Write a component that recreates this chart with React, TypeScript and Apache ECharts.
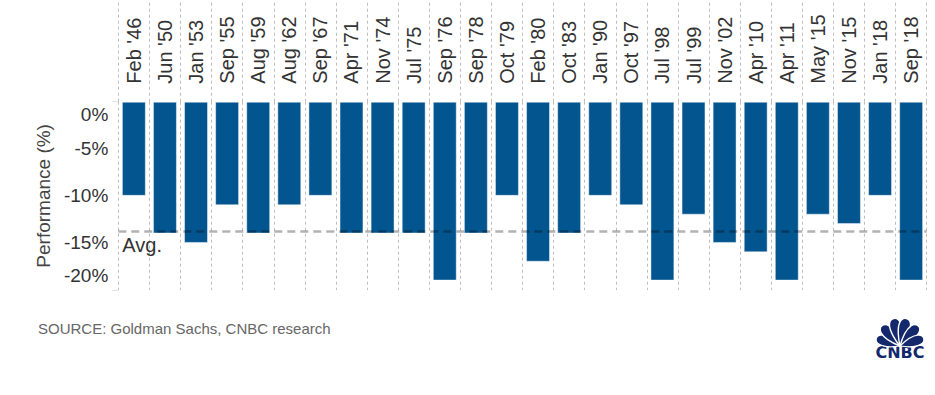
import React, { useEffect, useRef } from "react";
import * as echarts from "echarts";

const categories = [
  "Feb '46", "Jun '50", "Jan '53", "Sep '55", "Aug '59", "Aug '62", "Sep '67",
  "Apr '71", "Nov '74", "Jul '75", "Sep '76", "Sep '78", "Oct '79", "Feb '80",
  "Oct '83", "Jan '90", "Oct '97", "Jul '98", "Jul '99", "Nov '02", "Apr '10",
  "Apr '11", "May '15", "Nov '15", "Jan '18", "Sep '18",
];

const performance = [
  -10, -14, -15, -11, -14, -11, -10, -14, -14, -14, -19, -14, -10, -17,
  -14, -10, -11, -19, -12, -15, -16, -19, -12, -13, -10, -19,
];

const yTicks = [0, -5, -10, -15, -20];
const avgLabel = "Avg.";
const yAxisName = "Performance (%)";
const sourceText = "SOURCE: Goldman Sachs, CNBC research";
const logoText = "CNBC";

const FONT = "'Liberation Sans', Arial, sans-serif";
const featherPath =
  "M0,0 C-3,-6 -7,-17 -5.5,-23 C-4,-30 4,-30 5.5,-23 C7,-17 3,-6 0,0 Z";

export default function App() {
  const ref = useRef<HTMLDivElement>(null);

  useEffect(() => {
    if (!ref.current) return;
    echarts.graphic.registerShape(
      "feather",
      echarts.graphic.extendPath(featherPath, {}) as any
    );
    const chart = echarts.init(ref.current, undefined, { renderer: "svg" });

    const yMin = yTicks[yTicks.length - 1];
    const yMax = yTicks[0];

    const feathers = [
      { a: -72, s: 0.88 },
      { a: -42, s: 0.96 },
      { a: -13, s: 1.0 },
      { a: 13, s: 1.0 },
      { a: 42, s: 0.96 },
      { a: 72, s: 0.88 },
    ].map((f) => ({
      type: "feather",
      x: 900,
      y: 346,
      rotation: (-f.a * Math.PI) / 180,
      scaleX: f.s,
      scaleY: f.s,
      style: { fill: "#13296b", stroke: "#ffffff", lineWidth: 1.4 },
      silent: true,
      z: 10,
    }));

    chart.setOption({
      animation: false,
      grid: { left: 118.3, right: 8.3, top: 101.7, bottom: 105, containLabel: false },
      xAxis: {
        type: "category",
        position: "top",
        data: categories,
        axisLine: { show: false },
        axisTick: {
          show: true,
          length: 102,
          lineStyle: { color: "#bdbdbd", type: [3, 3], width: 1 },
        },
        splitLine: {
          show: true,
          lineStyle: { color: "#bdbdbd", type: [3, 3], width: 1 },
        },
        axisLabel: {
          rotate: 90,
          interval: 0,
          margin: 18,
          fontSize: 20,
          color: "#333",
          fontFamily: FONT,
        },
      },
      yAxis: {
        type: "value",
        min: yMin,
        max: yMax,
        interval: 5,
        name: yAxisName,
        nameLocation: "middle",
        nameGap: 63,
        nameTextStyle: { fontSize: 19, color: "#444", fontFamily: FONT },
        axisLine: { show: false },
        splitLine: { show: false },
        axisTick: {
          show: true,
          customValues: [yMax, yMin],
          length: 6,
          lineStyle: { color: "#e0e0e0" },
        },
        axisLabel: {
          margin: 10,
          fontSize: 19,
          color: "#333",
          fontFamily: FONT,
          formatter: (v: number) => {
            if (v === yMax) return "{t|" + v + "%}";
            if (v === yMin) return "{b|" + v + "%}";
            return "{n|" + v + "%}";
          },
          rich: {
            t: { padding: [26, 0, 0, 0], fontSize: 19, color: "#333", fontFamily: FONT },
            b: { padding: [0, 0, 30, 0], fontSize: 19, color: "#333", fontFamily: FONT },
            n: { fontSize: 19, color: "#333", fontFamily: FONT },
          },
        },
      },
      series: [
        {
          type: "bar",
          data: performance,
          barCategoryGap: "23%",
          itemStyle: {
            color: "#02558f",
            borderColor: "rgba(255,255,255,0.45)",
            borderWidth: 1,
          },
          markLine: {
            silent: true,
            symbol: ["none", "none"],
            data: [{ type: "average", name: avgLabel }],
            lineStyle: { color: "rgba(0,0,0,0.3)", type: [8, 5], width: 2.5 },
            label: {
              position: "insideStartBottom",
              formatter: avgLabel,
              fontSize: 20,
              color: "#333",
              fontFamily: FONT,
              distance: [4, 4],
            },
          },
        },
      ],
      graphic: [
        {
          type: "text",
          left: 38,
          top: 321,
          style: { text: sourceText, fontSize: 15, fill: "#666", fontFamily: FONT },
          silent: true,
        },
        ...feathers,
        {
          type: "text",
          x: 900,
          y: 352,
          style: {
            text: logoText,
            fontSize: 16,
            fontWeight: "bold",
            fill: "#13296b",
            fontFamily: "'DejaVu Sans', sans-serif",
            align: "center",
            verticalAlign: "middle",
          },
          silent: true,
        },
      ],
    });

    return () => chart.dispose();
  }, []);

  return (
    <div
      ref={ref}
      style={{ position: "fixed", left: 0, top: 0, width: 935, height: 395, background: "#fff" }}
    />
  );
}
